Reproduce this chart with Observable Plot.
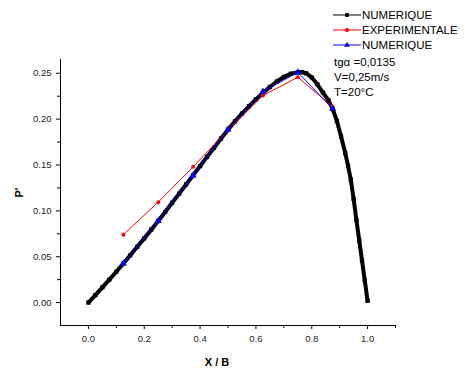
<!DOCTYPE html>
<html><head><meta charset="utf-8">
<script src="https://cdn.jsdelivr.net/npm/d3@7"></script>
<script src="https://cdn.jsdelivr.net/npm/@observablehq/plot@0.6"></script>
<style>body{margin:0;background:#fff}</style>
</head><body><div id="chart"></div>
<script>
// Numerical curve (dense, black squares)
const numX = [0,0.025,0.05,0.075,0.1,0.125,0.15,0.175,0.2,0.225,0.25,0.275,0.3,0.325,0.35,0.375,0.4,0.425,0.45,0.475,0.5,0.525,0.55,0.575,0.6,0.625,0.65,0.675,0.7,0.725,0.75,0.765,0.78,0.8,0.82,0.84,0.86,0.875,0.89,0.905,0.92,0.93,0.94,0.95,0.96,0.97,0.98,0.99,1.0];
const numY = [0,0.0082,0.0166,0.025,0.0336,0.0425,0.0516,0.0608,0.07,0.0795,0.089,0.0988,0.1088,0.1188,0.1288,0.1388,0.1488,0.1588,0.1688,0.1788,0.1885,0.1975,0.206,0.214,0.2215,0.2285,0.235,0.241,0.246,0.2495,0.251,0.2512,0.25,0.2455,0.238,0.229,0.2205,0.211,0.198,0.181,0.163,0.149,0.134,0.113,0.09,0.068,0.046,0.024,0.002];
// Experimental (red circles)
const expX = [0.125,0.25,0.375,0.5,0.625,0.75,0.875];
const expY = [0.074,0.1095,0.148,0.188,0.2257,0.2457,0.2135];
// Numerical sampled (blue triangles)
const num2X = [0.125,0.25,0.375,0.5,0.625,0.75,0.875];
const num2Y = [0.0425,0.0889,0.1386,0.1886,0.230,0.2511,0.2112];
// Ticks
const xTicks = [0,0.2,0.4,0.6,0.8,1.0];
const xMinor = [0.1,0.3,0.5,0.7,0.9,1.1];
const yTicks = [0,0.05,0.1,0.15,0.2,0.25];
const yMinor = [0.025,0.075,0.125,0.175,0.225];
// Texts
const legendLabels = ["NUMERIQUE","EXPERIMENTALE","NUMERIQUE"];
const legendColors = ["#000","#ff0000","#0000ff"];
const legendSymbols = ["square","circle","triangle"];
const notes = ["tgα =0,0135","V=0,25m/s","T=20°C"];
const xTitle = "X / B";
const yTitle = "P'";

const black = numX.map((x,i)=>({x, y:numY[i]}));
const exp = expX.map((x,i)=>({x, y:expY[i]}));
const num2 = num2X.map((x,i)=>({x, y:num2Y[i]}));

const font = "'Liberation Sans', Arial, sans-serif";
const plot = Plot.plot({
  width:465, height:372,
  marginLeft:60, marginRight:70, marginTop:59, marginBottom:47,
  style:{fontFamily:font, fontSize:"9.5px", background:"#fff", color:"#000"},
  x:{domain:[-0.1,1.1], label:null},
  y:{domain:[-0.025,0.265], label:null},
  marks:[
    Plot.ruleX([-0.1],{stroke:"#000", strokeWidth:1}),
    Plot.ruleY([-0.025],{stroke:"#000", strokeWidth:1}),
    Plot.axisX(xTicks,{tickSize:4, tickPadding:6, tickFormat:d3.format(".1f"), label:null, fill:"#222"}),
    Plot.axisX(xMinor,{tickSize:3, tickFormat:()=>"", label:null}),
    Plot.axisY(yTicks,{tickSize:4, tickPadding:5, tickFormat:d3.format(".2f"), label:null, fill:"#222"}),
    Plot.axisY(yMinor,{tickSize:3, tickFormat:()=>"", label:null}),
    Plot.text([xTitle],{frameAnchor:"bottom", dx:-11, dy:37, lineAnchor:"middle", fontWeight:"bold", fontSize:11}),
    Plot.text([yTitle],{frameAnchor:"left", dx:-41, dy:5, rotate:-90, lineAnchor:"middle", fontWeight:"bold", fontSize:11}),
    Plot.line(black,{x:"x", y:"y", stroke:"#000", strokeWidth:4}),
    Plot.dot(black,{x:"x", y:"y", symbol:"square", r:2.4, fill:"#000"}),
    Plot.line(exp,{x:"x", y:"y", stroke:"#ff0000", strokeWidth:1}),
    Plot.dot(exp,{x:"x", y:"y", fill:"#ff0000", r:2}),
    Plot.line(num2,{x:"x", y:"y", stroke:"#0000ff", strokeWidth:1}),
    Plot.dot(num2,{x:"x", y:"y", symbol:"triangle", fill:"#0000ff", r:2.6})
  ]
});
document.getElementById("chart").appendChild(plot);

// Legend drawn into the plot's SVG
const svg = d3.select(plot);
const lg = svg.append("g").attr("font-family", font).attr("font-size", "11.5px").attr("text-anchor","start");
legendLabels.forEach((lab,i)=>{
  const cy = 15 + i*15;
  lg.append("line").attr("x1",333).attr("x2",361).attr("y1",cy).attr("y2",cy)
    .attr("stroke",legendColors[i]).attr("stroke-width",1);
  const sym = {square:d3.symbolSquare, circle:d3.symbolCircle, triangle:d3.symbolTriangle}[legendSymbols[i]];
  lg.append("path").attr("d", d3.symbol(sym, 14)()).attr("transform",`translate(347,${cy})`).attr("fill",legendColors[i]);
  lg.append("text").attr("x",362).attr("y",cy).attr("dy","0.35em").attr("fill","#000").text(lab);
});
notes.forEach((t,i)=>{
  lg.append("text").attr("x",334).attr("y",62 + i*15).attr("dy","0.35em").attr("fill","#000").text(t);
});
</script>
</body></html>
